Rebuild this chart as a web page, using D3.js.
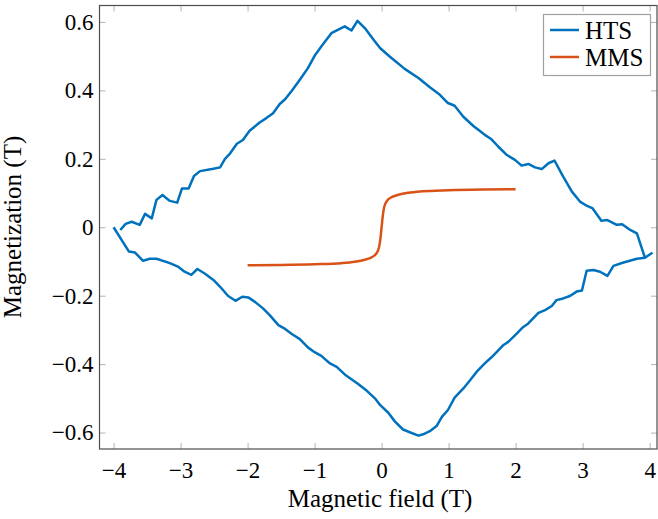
<!DOCTYPE html>
<html lang="en">
<head>
    <meta charset="UTF-8">
    <title>Magnetization loop</title>
    <style>
        body {
            margin: 0;
            background: #fff;
        }
        svg {
            display: block;
        }
        .axis line {
            stroke: #b3b3b3;
        }
    </style>
</head>
<body>

<svg id="chart" width="658" height="519"></svg>

<script src="https://d3js.org/d3.v7.min.js"></script>
<script>
    // HTS: increasing sweep (lower branch) then decreasing sweep (upper branch)
    const htsField = [
        -4.00, -3.77, -3.68, -3.56, -3.46, -3.36, -3.16, -3.04, -2.94, -2.84,
        -2.75, -2.64, -2.51, -2.41, -2.29, -2.18, -2.08, -1.99, -1.89, -1.77,
        -1.67, -1.54, -1.44, -1.34, -1.22, -1.10, -1.00, -0.90, -0.77, -0.67,
        -0.55, -0.45, -0.35, -0.22, -0.10, -0.02, 0.10, 0.20, 0.32, 0.42,
        0.55, 0.62, 0.72, 0.82, 0.90, 0.99, 1.09, 1.22, 1.32, 1.42,
        1.54, 1.64, 1.72, 1.82, 1.89, 2.02, 2.11, 2.19, 2.34, 2.44,
        2.54, 2.61, 2.71, 2.81, 2.91, 2.99, 3.06, 3.16, 3.26, 3.37,
        3.46, 3.61, 3.81, 3.93, 4.03,
        3.93, 3.81, 3.71, 3.59, 3.51, 3.37, 3.28, 3.15, 3.06, 2.96,
        2.84, 2.71, 2.58, 2.49, 2.39, 2.29, 2.19, 2.09, 1.99, 1.87,
        1.74, 1.64, 1.54, 1.37, 1.22, 1.09, 0.99, 0.87, 0.72, 0.55,
        0.35, 0.17, 0.12, -0.02, -0.12, -0.25, -0.36, -0.45, -0.55, -0.75,
        -0.90, -1.00, -1.10, -1.22, -1.34, -1.44, -1.52, -1.62, -1.72, -1.82,
        -1.97, -2.07, -2.16, -2.26, -2.34, -2.41, -2.51, -2.71, -2.80, -2.88,
        -2.98, -3.05, -3.16, -3.27, -3.36, -3.43, -3.53, -3.61, -3.73, -3.82,
        -3.90
    ];
    const htsMag = [
        0.000, -0.071, -0.074, -0.098, -0.092, -0.092, -0.105, -0.115, -0.130, -0.139,
        -0.122, -0.135, -0.154, -0.174, -0.201, -0.215, -0.203, -0.205, -0.218, -0.237,
        -0.257, -0.286, -0.297, -0.312, -0.327, -0.351, -0.365, -0.376, -0.398, -0.408,
        -0.430, -0.444, -0.458, -0.478, -0.500, -0.520, -0.542, -0.568, -0.591, -0.599,
        -0.609, -0.605, -0.596, -0.581, -0.554, -0.534, -0.498, -0.471, -0.447, -0.422,
        -0.398, -0.380, -0.364, -0.344, -0.335, -0.310, -0.292, -0.281, -0.250, -0.242,
        -0.230, -0.213, -0.208, -0.201, -0.188, -0.185, -0.127, -0.125, -0.130, -0.142,
        -0.113, -0.103, -0.092, -0.089, -0.076,
        -0.089, -0.018, -0.008, 0.009, 0.007, 0.021, 0.019, 0.055, 0.063, 0.075,
        0.104, 0.148, 0.195, 0.187, 0.170, 0.175, 0.185, 0.180, 0.197, 0.211,
        0.236, 0.257, 0.270, 0.296, 0.323, 0.355, 0.363, 0.387, 0.409, 0.436,
        0.462, 0.491, 0.499, 0.523, 0.548, 0.582, 0.603, 0.575, 0.587, 0.567,
        0.528, 0.501, 0.465, 0.431, 0.399, 0.374, 0.360, 0.333, 0.319, 0.306,
        0.282, 0.255, 0.244, 0.216, 0.199, 0.175, 0.171, 0.164, 0.150, 0.113,
        0.113, 0.072, 0.077, 0.094, 0.080, 0.026, 0.039, 0.007, 0.016, 0.010,
        -0.008
    ];

    const mmsField = [-2.0, -1.5, -1.0, -0.6, -0.4, -0.25, -0.15, -0.08, -0.04, -0.02, 0.0,
        0.02, 0.04, 0.08, 0.15, 0.25, 0.4, 0.6, 1.0, 1.5, 2.0];
    const mmsMag = [-0.111, -0.110, -0.108, -0.105, -0.101, -0.095, -0.088, -0.077, -0.060, -0.037, 0.0,
        0.037, 0.060, 0.077, 0.088, 0.095, 0.101, 0.105, 0.108, 0.110, 0.111];

    const xTicks = [-4, -3, -2, -1, 0, 1, 2, 3, 4];
    const yTicks = [-0.6, -0.4, -0.2, 0, 0.2, 0.4, 0.6];
    const seriesNames = ["HTS", "MMS"];
    const seriesColors = ["#0072bd", "#d95319"];

    const serif = '"Liberation Serif"';

    const svg = d3.select("#chart");
    const plotLeft = 99.5, plotRight = 657, plotTop = 5.5, plotBottom = 449;

    const x = d3.scaleLinear().domain([-4.21, 4.11]).range([plotLeft, plotRight]);
    const y = d3.scaleLinear().domain([-0.648, 0.648]).range([plotBottom, plotTop]);

    // ticks on all four sides, pointing inward
    svg.append("g").attr("class", "axis")
        .attr("transform", `translate(0,${plotBottom})`)
        .call(d3.axisBottom(x).tickValues(xTicks).tickSize(-6).tickPadding(12.5));
    svg.append("g").attr("class", "axis")
        .attr("transform", `translate(0,${plotTop})`)
        .call(d3.axisTop(x).tickValues(xTicks).tickSize(-6).tickFormat(""));
    svg.append("g").attr("class", "axis")
        .attr("transform", `translate(${plotLeft},0)`)
        .call(d3.axisLeft(y).tickValues(yTicks).tickSize(-6).tickPadding(6)
            .tickFormat(d => d === 0 ? "0" : d3.format(".1f")(d)));
    svg.append("g").attr("class", "axis")
        .attr("transform", `translate(${plotRight},0)`)
        .call(d3.axisRight(y).tickValues(yTicks).tickSize(-6).tickFormat(""));

    svg.selectAll(".axis .domain").remove();
    svg.selectAll(".axis text")
        .attr("fill", "#000")
        .style("font-family", serif)
        .style("font-size", "23px");

    svg.append("rect")
        .attr("x", plotLeft).attr("y", plotTop)
        .attr("width", plotRight - plotLeft).attr("height", plotBottom - plotTop)
        .attr("fill", "none").attr("stroke", "#4d4d4d").attr("stroke-width", 1.2);

    const line = d3.line().x(d => x(d[0])).y(d => y(d[1]));

    const htsData = htsField.map((f, i) => [f, htsMag[i]]);
    const mmsData = mmsField.map((f, i) => [f, mmsMag[i]]);

    svg.append("path")
        .datum(htsData)
        .attr("d", line)
        .attr("fill", "none")
        .attr("stroke", seriesColors[0])
        .attr("stroke-width", 2.5)
        .attr("stroke-linejoin", "round");

    svg.append("path")
        .datum(mmsData)
        .attr("d", line.curve(d3.curveMonotoneX))
        .attr("fill", "none")
        .attr("stroke", seriesColors[1])
        .attr("stroke-width", 2.5);

    // axis labels
    svg.append("text")
        .attr("x", 380).attr("y", 507)
        .attr("text-anchor", "middle")
        .style("font-family", serif).style("font-size", "25px")
        .text("Magnetic field (T)");

    svg.append("text")
        .attr("transform", "translate(21,227) rotate(-90)")
        .attr("text-anchor", "middle")
        .style("font-family", serif).style("font-size", "25px")
        .text("Magnetization (T)");

    // legend
    const legend = svg.append("g");
    legend.append("rect")
        .attr("x", 543.5).attr("y", 14.5)
        .attr("width", 107).attr("height", 61)
        .attr("fill", "#fff").attr("stroke", "#a0a0a0").attr("stroke-width", 1.2);

    seriesNames.forEach((name, i) => {
        const ly = 30 + i * 27;
        legend.append("line")
            .attr("x1", 550).attr("x2", 579)
            .attr("y1", ly).attr("y2", ly)
            .attr("stroke", seriesColors[i]).attr("stroke-width", 2.5);
        legend.append("text")
            .attr("x", 585).attr("y", ly + 8.5)
            .style("font-family", serif).style("font-size", "25px")
            .text(name);
    });
</script>

</body>
</html>
